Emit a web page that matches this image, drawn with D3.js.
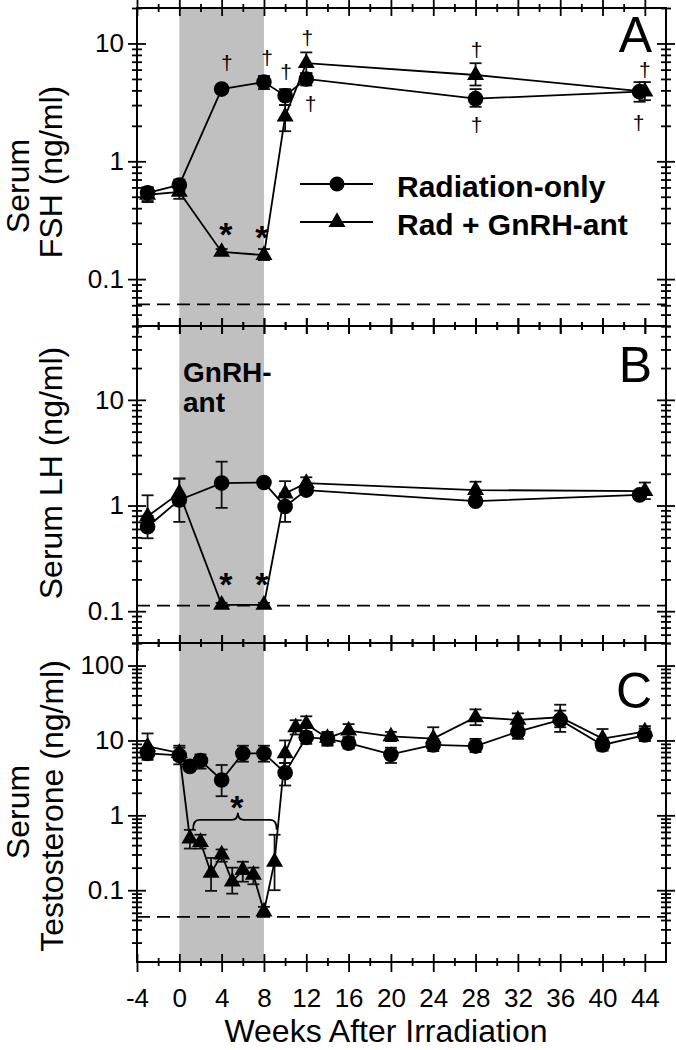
<!DOCTYPE html>
<html><head><meta charset="utf-8">
<script src="https://cdn.jsdelivr.net/npm/d3@7"></script>
<style>body{margin:0;background:#fff}svg{display:block}</style>
</head><body>
<svg id="c" width="676" height="1050"></svg>
<script>
// ---------------- DATA ----------------
const seriesNames = ["Radiation-only", "Rad + GnRH-ant"];
const shadeWeeks = [0, 8];
const xMajorTicks = [-4,0,4,8,12,16,20,24,28,32,36,40,44];
const xMinorTicks = [-2,2,6,10,14,18,22,26,30,34,38,42];

// Panel A: FSH
const fshRadWeeks = [-3, 0, 4, 8, 10, 12, 28, 43.5];
const fshRad      = [0.54, 0.63, 4.1, 4.7, 3.6, 5.0, 3.4, 3.9];
const fshRadLo    = [0.46, 0.56, 3.8, 4.1, 3.0, 4.4, 2.9, 3.2];
const fshRadHi    = [0.60, 0.70, 4.4, 5.3, 4.1, 5.6, 4.1, 4.7];
const fshGnWeeks  = [-3, 0, 4, 8, 10, 12, 28, 44];
const fshGn       = [0.52, 0.55, 0.17, 0.16, 2.4, 6.8, 5.4, 3.9];
const fshGnLo     = [0.45, 0.48, 0.16, 0.145, 1.8, 5.6, 4.4, 3.3];
const fshGnHi     = [0.60, 0.62, 0.18, 0.18, 3.0, 8.4, 6.8, 4.7];
const fshDetection = 0.061;
const fshTicks = [0.1, 1, 10];

// Panel B: LH
const lhRadWeeks = [-3, 0, 4, 8, 10, 12, 28, 43.5];
const lhRad      = [0.63, 1.13, 1.63, 1.65, 0.98, 1.4, 1.1, 1.26];
const lhRadLo    = [0.49, 0.70, 0.95, 1.60, 0.70, 1.3, 1.02, 1.15];
const lhRadHi    = [0.80, 1.80, 2.60, 1.70, 1.30, 1.5, 1.20, 1.35];
const lhGnWeeks  = [-3, 0, 4, 8, 10, 12, 28, 44];
const lhGn       = [0.79, 1.31, 0.115, 0.115, 1.3, 1.63, 1.4, 1.37];
const lhGnLo     = [0.60, 1.00, 0.11, 0.11, 1.0, 1.50, 1.2, 1.15];
const lhGnHi     = [1.25, 1.80, 0.12, 0.12, 1.7, 1.85, 1.68, 1.65];
const lhDetection = 0.113;
const lhTicks = [0.1, 1, 10];

// Panel C: Testosterone
const tRadWeeks = [-3, 0, 1, 2, 4, 6, 8, 10, 12, 14, 16, 20, 24, 28, 32, 36, 40, 44];
const tRad      = [6.7, 6.3, 4.5, 5.4, 2.96, 6.7, 6.7, 3.7, 11, 10.5, 9.2, 6.5, 8.7, 8.4, 13.1, 18.8, 8.7, 11.8];
const tRadLo    = [5.5, 4.8, 4.0, 4.2, 1.8, 5.2, 5.2, 2.5, 9, 8.5, 7.8, 5.0, 7.2, 7.0, 10.5, 13, 7.3, 9.8];
const tRadHi    = [8.0, 8.0, 5.0, 6.5, 4.7, 8.5, 8.5, 5.0, 13, 12.5, 11, 8.0, 10.5, 10.5, 16, 25, 10.5, 14.5];
const tGnWeeks  = [-3, 0, 1, 2, 3, 4, 5, 6, 7, 8, 9, 10, 11, 12, 14, 16, 20, 24, 28, 32, 36, 40, 44];
const tGn       = [8.3, 6.8, 0.49, 0.44, 0.17, 0.30, 0.13, 0.186, 0.16, 0.052, 0.24, 6.7, 15, 16.5, 10.8, 13.5, 11.3, 10.6, 20.4, 18.8, 20.4, 10.6, 13.1];
const tGnLo     = [6.5, 5.5, 0.36, 0.36, 0.098, 0.24, 0.09, 0.13, 0.12, 0.045, 0.10, 5, 12, 12, 8.8, 11, 9.8, 8.7, 16, 15, 15, 8.5, 11];
const tGnHi     = [12.4, 8.5, 0.64, 0.55, 0.27, 0.35, 0.20, 0.24, 0.20, 0.060, 0.55, 10, 18.6, 21, 13, 16.5, 13, 15, 26, 23, 30, 14.2, 15.5];
const tDetection = 0.044;
const tTicks = [0.1, 1, 10, 100];

// Annotations: [week, value]
const fshDaggers = [[4.5,6.7],[8.3,7.4],[10.1,5.7],[12.1,11.1],[12.4,3.06],[28.1,8.8],[28.1,2.03],[44.0,5.9],[43.4,2.11]];
const fshStars = [[4.4,0.277],[7.8,0.26]];
const lhStars = [[4.4,0.211],[7.8,0.211]];
const tStar = [5.45, 1.6];
const tBrace = [1.3, 9.2, 0.87];   // start week, end week, level
const panelLetters = ["A","B","C"];
const shadeLabel = ["GnRH-", "ant"];

// ---------------- CHART ----------------
const FONT = '"Liberation Sans", Arial, Helvetica, sans-serif';
const svg = d3.select('#c');
const L = 137, R = 666;
const x = d3.scaleLinear().domain([-4, 46]).range([L, R]);

const yA = d3.scaleLog().domain([0.04, 20]).range([326, 8]);
const yB = d3.scaleLog().domain([0.05, 50]).range([643, 326]);
const yC = d3.scaleLog().domain([0.011, 200]).range([962, 643]);

function zip(w, v, lo, hi){ return w.map((d,i)=>({w:d, v:v[i], lo:lo[i], hi:hi[i]})); }

const panels = [
  {y:yA, majors:fshTicks, det:fshDetection, rad:zip(fshRadWeeks,fshRad,fshRadLo,fshRadHi), gn:zip(fshGnWeeks,fshGn,fshGnLo,fshGnHi), letter:panelLetters[0], letterY:52, bottomLabels:false},
  {y:yB, majors:lhTicks, det:lhDetection, rad:zip(lhRadWeeks,lhRad,lhRadLo,lhRadHi), gn:zip(lhGnWeeks,lhGn,lhGnLo,lhGnHi), letter:panelLetters[1], letterY:382, bottomLabels:false},
  {y:yC, majors:tTicks, det:tDetection, rad:zip(tRadWeeks,tRad,tRadLo,tRadHi), gn:zip(tGnWeeks,tGn,tGnLo,tGnHi), letter:panelLetters[2], letterY:708, bottomLabels:true},
];

// shading
svg.append('rect')
  .attr('x', x(shadeWeeks[0])).attr('width', x(shadeWeeks[1]) - x(shadeWeeks[0]))
  .attr('y', yA.range()[1]).attr('height', yC.range()[0] - yA.range()[1])
  .attr('fill', '#c0c0c0');

function minorTicks(dom){
  const out = [];
  for (let e = -3; e <= 3; e++) for (let m = 2; m <= 9; m++) {
    const v = +(m * Math.pow(10, e)).toPrecision(6);
    if (v >= dom[0] * 0.999 && v <= dom[1] * 1.001) out.push(v);
  }
  return out;
}

const triPath = (() => { const s = 17, h = 14.7; return `M0,${-h*2/3}L${s/2},${h/3}L${-s/2},${h/3}Z`; })();

function styleAxis(g){
  g.select('.domain').remove();
  g.selectAll('line').attr('stroke', '#000').attr('stroke-width', 1.8);
  g.selectAll('text').attr('font-family', FONT).attr('font-size', 26).attr('fill', '#000');
}

panels.forEach(p => {
  const y = p.y;
  const top = y.range()[1], bot = y.range()[0];
  const g = svg.append('g');

  // detection limit dashed line
  g.append('line').attr('x1', L).attr('x2', R).attr('y1', y(p.det)).attr('y2', y(p.det))
    .attr('stroke', '#000').attr('stroke-width', 1.6).attr('stroke-dasharray', '13,7');

  const line = d3.line().x(d => x(d.w)).y(d => y(d.v));
  [p.rad, p.gn].forEach(s => {
    g.append('path').attr('d', line(s)).attr('fill', 'none').attr('stroke', '#000').attr('stroke-width', 1.8);
  });
  // error bars
  [p.rad, p.gn].forEach(s => {
    const eb = g.append('g').attr('stroke', '#111').attr('stroke-width', 1.8);
    s.forEach(d => {
      const cx = x(d.w);
      eb.append('line').attr('x1', cx).attr('x2', cx).attr('y1', y(d.lo)).attr('y2', y(d.hi));
      eb.append('line').attr('x1', cx-6).attr('x2', cx+6).attr('y1', y(d.lo)).attr('y2', y(d.lo));
      eb.append('line').attr('x1', cx-6).attr('x2', cx+6).attr('y1', y(d.hi)).attr('y2', y(d.hi));
    });
  });
  // markers
  g.selectAll('.c').data(p.rad).enter().append('circle')
    .attr('cx', d => x(d.w)).attr('cy', d => y(d.v)).attr('r', 7.8).attr('fill', '#000');
  g.selectAll('.t').data(p.gn).enter().append('path')
    .attr('d', triPath).attr('transform', d => `translate(${x(d.w)},${y(d.v)})`).attr('fill', '#000');

  // axes
  const minors = minorTicks(y.domain());
  const fmt = d => String(d);
  g.append('g').attr('transform', `translate(${L},0)`).call(d3.axisLeft(y).tickValues(p.majors).tickSize(9).tickPadding(4).tickFormat(fmt)).call(styleAxis);
  g.append('g').attr('transform', `translate(${L},0)`).call(d3.axisRight(y).tickValues(p.majors).tickSize(9).tickFormat('')).call(styleAxis);
  g.append('g').attr('transform', `translate(${L},0)`).call(d3.axisLeft(y).tickValues(minors).tickSize(5).tickFormat('')).call(styleAxis);
  g.append('g').attr('transform', `translate(${L},0)`).call(d3.axisRight(y).tickValues(minors).tickSize(5).tickFormat('')).call(styleAxis);
  g.append('g').attr('transform', `translate(${R},0)`).call(d3.axisLeft(y).tickValues(p.majors).tickSize(9).tickFormat('')).call(styleAxis);
  g.append('g').attr('transform', `translate(${R},0)`).call(d3.axisRight(y).tickValues(p.majors).tickSize(9).tickFormat('')).call(styleAxis);
  g.append('g').attr('transform', `translate(${R},0)`).call(d3.axisLeft(y).tickValues(minors).tickSize(5).tickFormat('')).call(styleAxis);
  g.append('g').attr('transform', `translate(${R},0)`).call(d3.axisRight(y).tickValues(minors).tickSize(5).tickFormat('')).call(styleAxis);

  [top, bot].forEach((yy, i) => {
    const withLabels = (i === 1 && p.bottomLabels);
    g.append('g').attr('transform', `translate(0,${yy})`).call(d3.axisTop(x).tickValues(xMajorTicks).tickSize(8).tickFormat('')).call(styleAxis);
    g.append('g').attr('transform', `translate(0,${yy})`).call(d3.axisBottom(x).tickValues(xMajorTicks).tickSize(withLabels ? 10 : 8).tickPadding(17).tickFormat(withLabels ? (d => String(d)) : '')).call(styleAxis);
    g.append('g').attr('transform', `translate(0,${yy})`).call(d3.axisTop(x).tickValues(xMinorTicks).tickSize(4).tickFormat('')).call(styleAxis);
    g.append('g').attr('transform', `translate(0,${yy})`).call(d3.axisBottom(x).tickValues(xMinorTicks).tickSize(4).tickFormat('')).call(styleAxis);
  });

  // frame
  g.append('rect').attr('x', L).attr('y', top).attr('width', R - L).attr('height', bot - top)
    .attr('fill', 'none').attr('stroke', '#000').attr('stroke-width', 2);

  // panel letter
  g.append('text').attr('x', 652).attr('y', p.letterY).attr('text-anchor', 'end')
    .attr('font-family', FONT).attr('font-size', 50).text(p.letter);
});

// annotations
function txt(xp, yp, s, size, weight, anchor){
  return svg.append('text').attr('x', xp).attr('y', yp).attr('font-family', FONT)
    .attr('font-size', size).attr('font-weight', weight || 'normal')
    .attr('text-anchor', anchor || 'middle').attr('fill', '#000').text(s);
}
fshDaggers.forEach(([w, v]) => txt(x(w), yA(v) + 6.5, '\u2020', 21));
fshStars.forEach(([w, v]) => txt(x(w), yA(v) + 19, '*', 34, 'bold'));
lhStars.forEach(([w, v]) => txt(x(w), yB(v) + 19, '*', 34, 'bold'));
txt(x(tStar[0]), yC(tStar[1]) + 19, '*', 34, 'bold');

// brace
(() => {
  const x1 = x(tBrace[0]), x2 = x(tBrace[1]), ym = yC(tBrace[2]);
  const xm = (x1 + x2) / 2 + 3, r = 6;
  const d = `M${x1},${ym+10} Q${x1},${ym} ${x1+r},${ym} L${xm-r},${ym} Q${xm},${ym} ${xm},${ym-7} Q${xm},${ym} ${xm+r},${ym} L${x2-r},${ym} Q${x2},${ym} ${x2},${ym+10}`;
  svg.append('path').attr('d', d).attr('fill', 'none').attr('stroke', '#000').attr('stroke-width', 1.8);
})();

// shaded label
txt(x(0.35), 382, shadeLabel[0], 28, 'bold', 'start');
txt(x(0.35), 412, shadeLabel[1], 28, 'bold', 'start');

// legend
[[184, 'c'], [222, 't']].forEach(([ly, kind], i) => {
  svg.append('line').attr('x1', 300).attr('x2', 373).attr('y1', ly).attr('y2', ly).attr('stroke', '#000').attr('stroke-width', 1.8);
  if (kind === 'c') svg.append('circle').attr('cx', 337).attr('cy', ly).attr('r', 7.5).attr('fill', '#000');
  else svg.append('path').attr('d', triPath).attr('transform', `translate(337,${ly})`).attr('fill', '#000');
  txt(397, ly + 12.5, seriesNames[i], 30, 'bold', 'start');
});

// axis titles
function vtitle(xp, yp, s){
  svg.append('text').attr('transform', `translate(${xp},${yp}) rotate(-90)`).attr('text-anchor', 'middle')
    .attr('font-family', FONT).attr('font-size', 32).attr('fill', '#000').text(s);
}
vtitle(29, 186, 'Serum');
vtitle(62, 172, 'FSH (ng/ml)');
vtitle(62, 473, 'Serum LH (ng/ml)');
vtitle(29, 812, 'Serum');
vtitle(63, 806, 'Testosterone (ng/ml)');
txt(386, 1042, 'Weeks After Irradiation', 32);
</script>
</body></html>
